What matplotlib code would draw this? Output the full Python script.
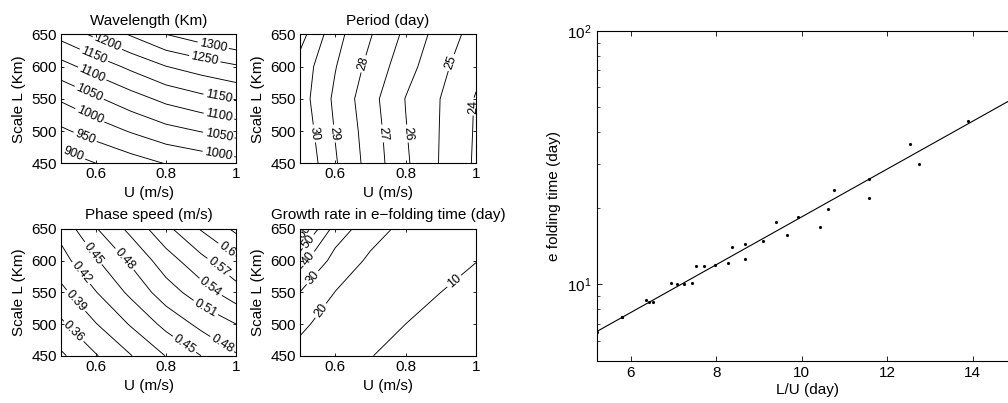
import numpy as np
import matplotlib
matplotlib.use('Agg')
import matplotlib.pyplot as plt
from matplotlib.ticker import NullFormatter, LogLocator

plt.rcParams['font.family'] = ['Liberation Sans', 'DejaVu Sans']
plt.rcParams['font.size'] = 11
plt.rcParams['mathtext.fontset'] = 'custom'
plt.rcParams['mathtext.rm'] = 'Liberation Sans'
plt.rcParams['mathtext.it'] = 'Liberation Sans:italic'
plt.rcParams['axes.linewidth'] = 0.8

# ---- data grid ----
U_vals = [0.5, 0.6, 0.7, 0.8, 0.9, 1.0]          # m/s
L_vals = [450, 500, 550, 600, 650]                # km

# rows: L = 450 ... 650 ; columns: U = 0.5 ... 1.0
wavelength = [
    [870, 900, 927, 952, 968, 983],
    [941, 973, 1004, 1033, 1052, 1069],
    [1006, 1043, 1079, 1113, 1136, 1155],
    [1082, 1122, 1161, 1199, 1223, 1244],
    [1167, 1211, 1255, 1300, 1328, 1352],
]
period = [
    [30.95, 29.10, 27.60, 26.15, 24.92, 23.86],
    [30.70, 28.95, 27.50, 26.05, 24.95, 23.90],
    [30.48, 28.80, 27.35, 25.97, 24.98, 23.93],
    [30.60, 29.05, 27.70, 26.40, 25.25, 24.25],
    [31.40, 29.35, 28.07, 26.79, 25.55, 24.62],
]
phase_speed = [
    [0.325, 0.358, 0.389, 0.421, 0.450, 0.477],
    [0.355, 0.389, 0.423, 0.459, 0.488, 0.510],
    [0.382, 0.419, 0.457, 0.496, 0.526, 0.557],
    [0.409, 0.447, 0.485, 0.526, 0.561, 0.594],
    [0.430, 0.478, 0.518, 0.562, 0.602, 0.636],
]
efold_time = [
    [16.8, 12.6, 10.15, 8.49, 7.45, 6.50],
    [21.9, 15.6, 12.2, 10.0, 8.54, 7.45],
    [29.8, 19.8, 14.9, 11.95, 10.0, 8.67],
    [44.0, 26.0, 18.4, 14.4, 11.8, 10.09],
    [65.0, 35.9, 23.6, 17.6, 14.1, 11.8],
]

wl_levels = [900, 950, 1000, 1050, 1100, 1150, 1200, 1250, 1300]
per_levels = [24, 25, 26, 27, 28, 29, 30, 31]
ph_levels = [0.33, 0.36, 0.39, 0.42, 0.45, 0.48, 0.51, 0.54, 0.57, 0.6, 0.63]
gr_levels = [10, 20, 30, 40, 50, 60]

# ---- layout: approximate spots where contour labels sit (U, L) ----
wl_label_spots = [(0.630, 633), (0.588, 610), (0.583, 582), (0.578, 556), (0.583, 525),
                  (0.569, 491), (0.535, 463), (0.935, 633), (0.909, 607), (0.95, 551),
                  (0.95, 520), (0.95, 491), (0.95, 465)]
per_label_spots = [(0.538, 496), (0.595, 496), (0.675, 605), (0.732, 496), (0.803, 496),
                   (0.926, 607), (0.988, 538)]
ph_label_spots = [(0.578, 606), (0.673, 598), (0.550, 577), (0.535, 533), (0.530, 485),
                  (0.969, 614), (0.94, 583), (0.921, 554), (0.907, 519), (0.854, 469),
                  (0.959, 467)]
gr_label_spots = [(0.936, 569), (0.557, 522), (0.534, 574), (0.525, 603), (0.52, 632),
                  (0.515, 645)]

U = np.array(U_vals)
L = np.array(L_vals)

fig = plt.figure(figsize=(10.08, 4.03), dpi=100)
W, H = 1008.0, 403.0


def axes_px(left, top, right, bottom):
    return fig.add_axes([left / W, 1 - bottom / H, (right - left) / W, (bottom - top) / H])


def setup(ax, title, xpad):
    ax.set_xlim(0.5, 1.0)
    ax.set_ylim(450, 650)
    ax.set_xticks([0.6, 0.8, 1.0])
    ax.set_xticklabels(['0.6', '0.8', '1'])
    ax.set_yticks([450, 500, 550, 600, 650])
    ax.tick_params(direction='in', top=True, right=True, length=2.5, width=0.6, pad=3)
    ax.set_xlabel('U (m/s)', labelpad=xpad)
    ax.set_ylabel('Scale L (Km)', labelpad=4)
    ax.set_title(title, fontsize=11, pad=7)


panels = [
    ((61, 34.3, 236, 163.3), wavelength, wl_levels, 'Wavelength (Km)', wl_label_spots, 3),
    ((300, 34.3, 476, 163.3), period, per_levels, 'Period (day)', per_label_spots, 3),
    ((61, 229, 236, 355.7), phase_speed, ph_levels, 'Phase speed (m/s)', ph_label_spots, 4),
    ((300, 229, 476, 355.7), efold_time, gr_levels,
     'Growth rate in e\u2212folding time (day)', gr_label_spots, 4),
]

for box, Z, levels, title, spots, xpad in panels:
    ax = axes_px(*box)
    cs = ax.contour(U, L, np.array(Z), levels=levels, colors='k', linewidths=0.65)
    ax.clabel(cs, fmt='%g', fontsize=9, inline=True, inline_spacing=2, manual=spots)
    setup(ax, title, xpad)

# ---- right panel: e-folding time vs L/U ----
axr = axes_px(597, 31, 1017.6, 360.7)
x = (L[:, None] * 1000.0 / (U[None, :] * 86400.0)).ravel()
y = np.array(efold_time).ravel()
axr.plot(x, y, 'k.', markersize=2.5)
coef = np.polyfit(x, np.log10(y), 1)
xf = np.array([x.min(), x.max()])
axr.plot(xf, 10 ** np.polyval(coef, xf), 'k-', lw=0.8)
axr.set_yscale('log')
axr.set_xlim(x.min(), x.max())
axr.set_ylim(5, 100)
axr.set_xticks([6, 8, 10, 12, 14])
axr.yaxis.set_major_locator(LogLocator(base=10, numticks=5))
axr.yaxis.set_minor_locator(LogLocator(base=10, subs=np.arange(2, 10), numticks=20))
axr.yaxis.set_minor_formatter(NullFormatter())
axr.tick_params(which='major', direction='in', top=True, right=True, length=3.5, width=0.6, pad=4)
axr.tick_params(which='minor', direction='in', top=True, right=True, length=2, width=0.5)
axr.set_xlabel('L/U (day)', labelpad=2)
axr.set_ylabel('e folding time (day)', labelpad=4)

fig.savefig('out.png', dpi=100)
